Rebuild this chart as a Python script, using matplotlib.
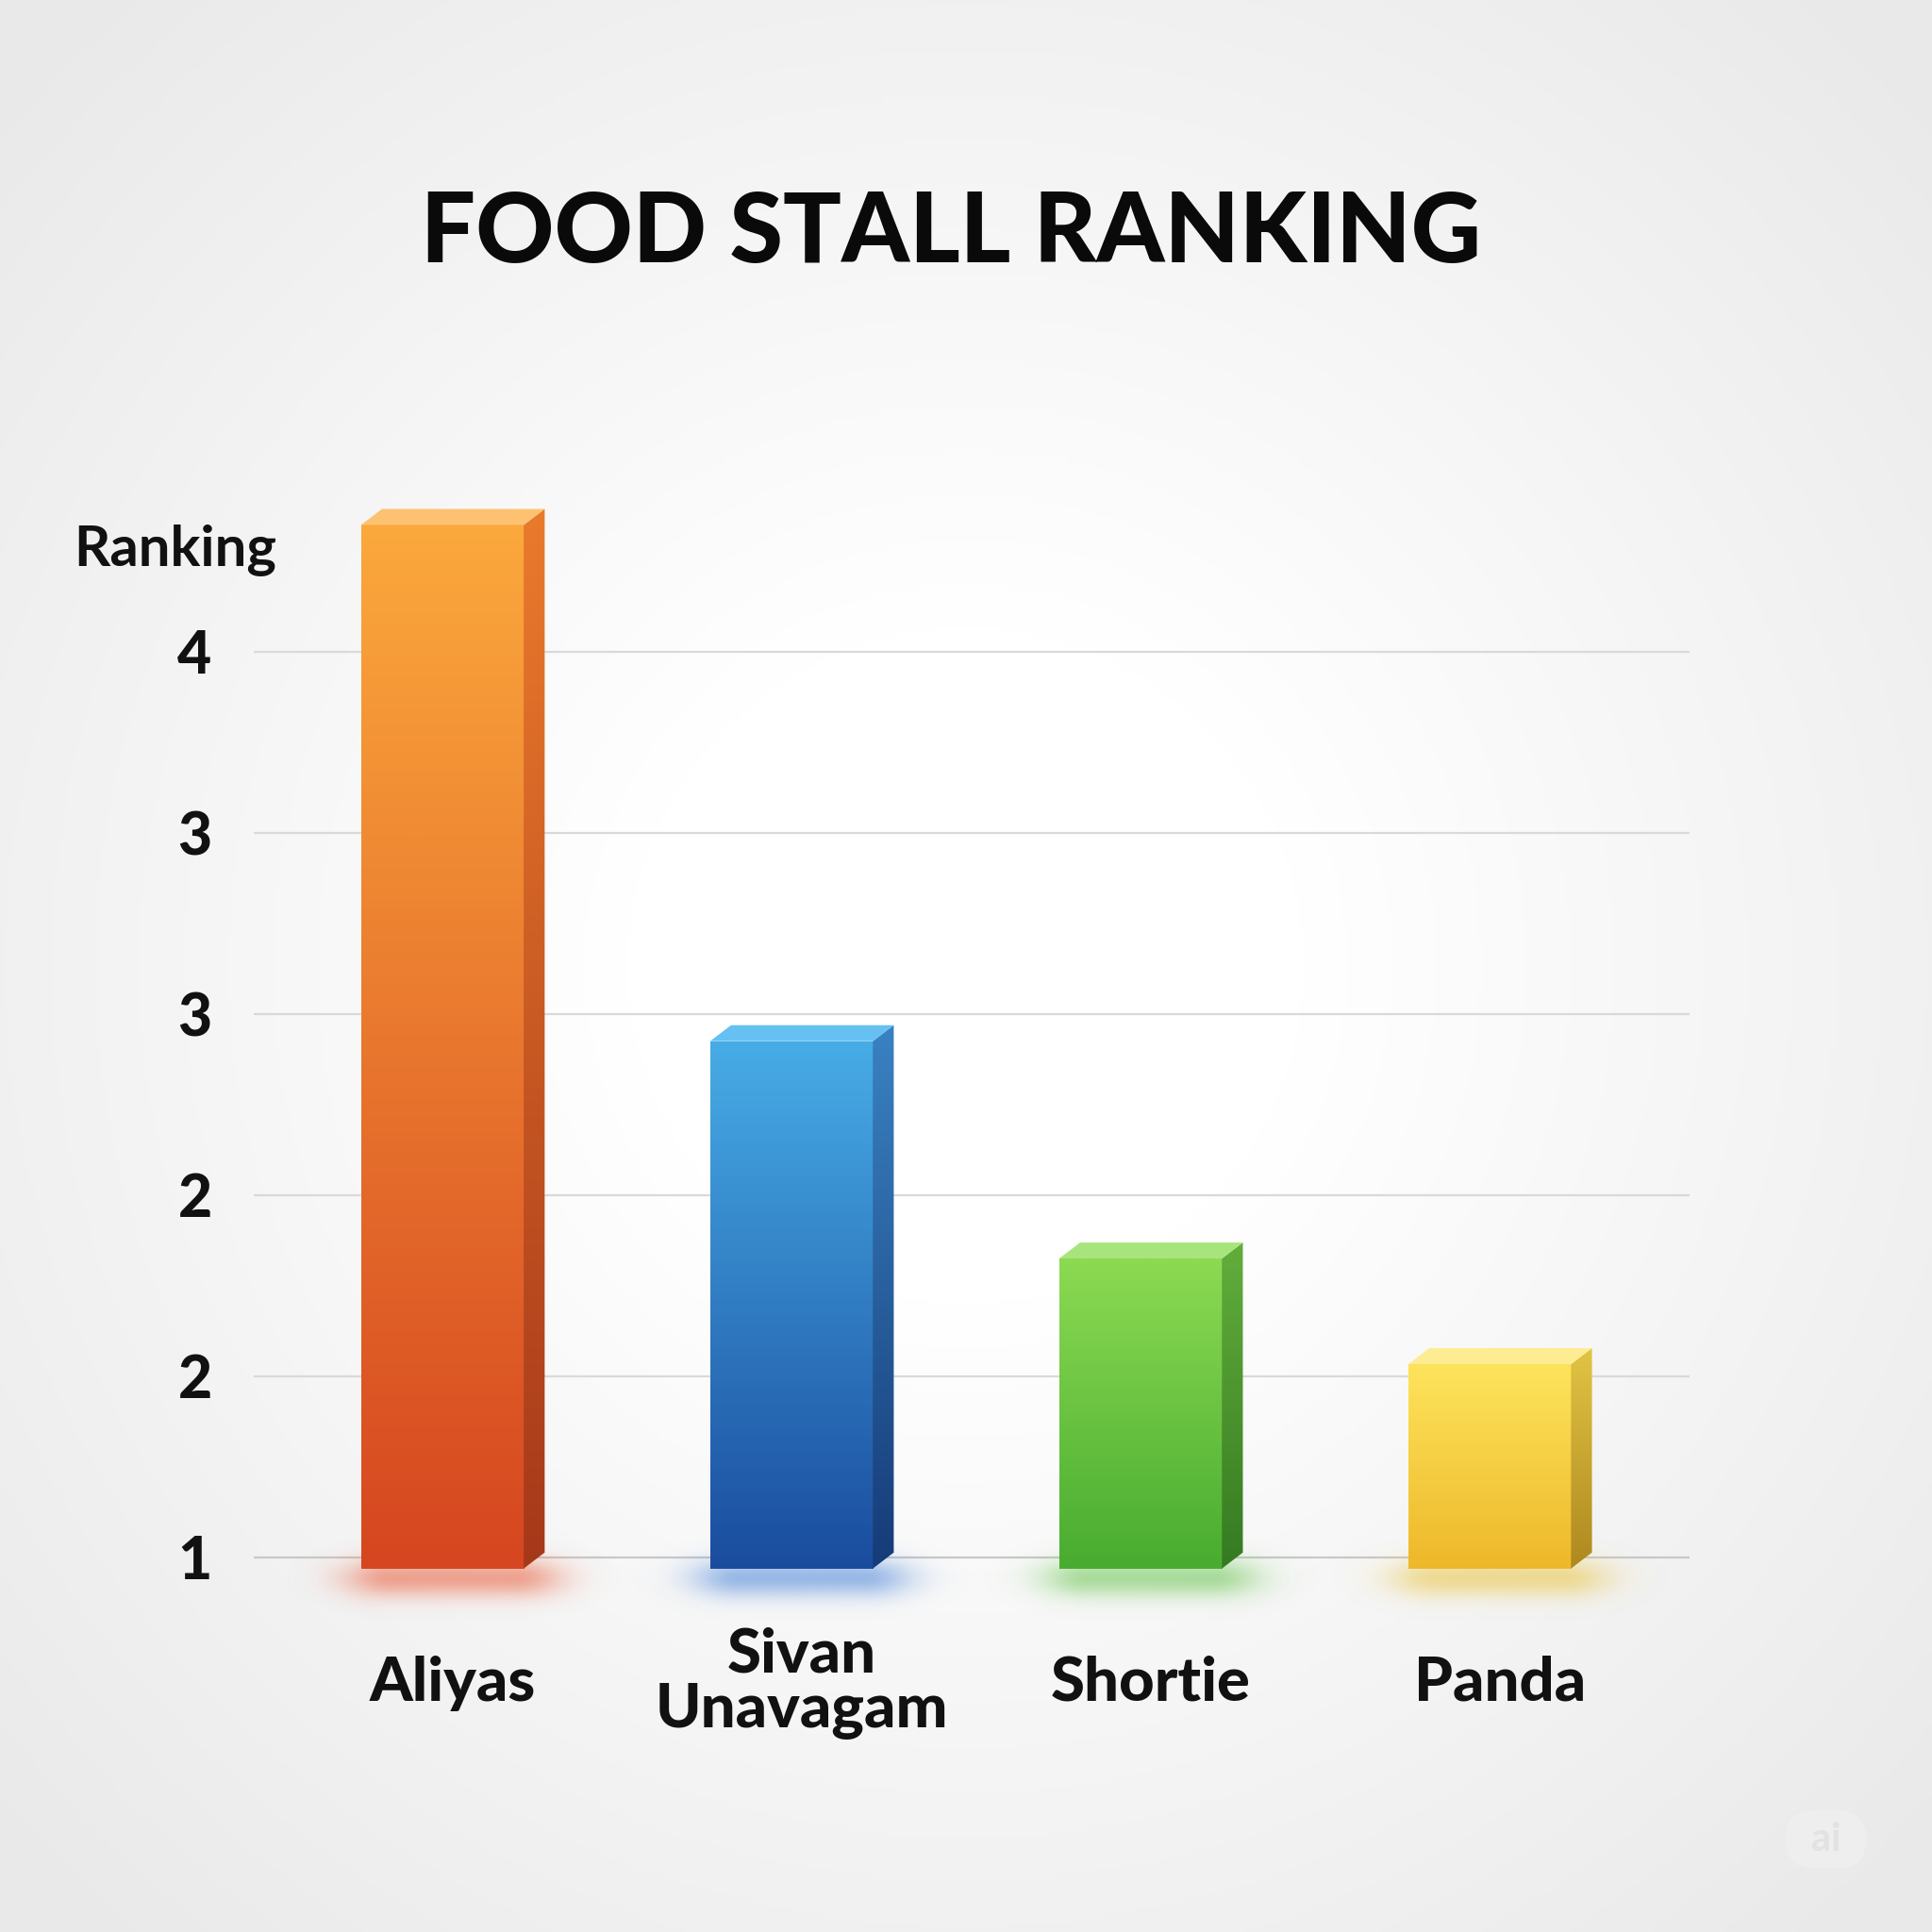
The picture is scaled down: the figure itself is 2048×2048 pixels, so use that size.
import numpy as np
import matplotlib
matplotlib.use("Agg")
import matplotlib.pyplot as plt
import matplotlib.transforms as mtransforms
from matplotlib.colors import LinearSegmentedColormap, to_rgb
from matplotlib.patches import Rectangle, Polygon, FancyBboxPatch

plt.rcParams['font.family'] = ['Lato', 'DejaVu Sans']

# data
stalls = ['Aliyas', 'Sivan\nUnavagam', 'Shortie', 'Panda']
ranking = [4.42, 2.71, 1.99, 1.64]
tick_vals = [1.0, 1.6, 2.2, 2.8, 3.4, 4.0]
tick_labels = ['1', '2', '2', '3', '3', '4']

# colours: front top, front bottom, side top, side bottom, top face
front_top = ['#FBA83C', '#47ACE6', '#8CDA52', '#FDE45C']
front_bot = ['#D64620', '#1A4C9E', '#48AC30', '#EEB82A']
side_top = ['#EA7A2C', '#3A82C2', '#62AE3C', '#E2C444']
side_bot = ['#A6381A', '#163B78', '#357A22', '#AE881E']
top_face = ['#FCC272', '#66C0F2', '#A8E47C', '#FDEC92']
glow_col = ['#E8502A', '#3C7AD6', '#5CC040', '#E8C030']

W = 0.466
DX = 0.06
DY = 0.053
SINK = 0.037

fig = plt.figure(figsize=(20.48, 20.48), dpi=100)

# soft vignette background
bg = fig.add_axes([0, 0, 1, 1], zorder=-10)
yy, xx = np.mgrid[-1:1:400j, -1:1:400j]
r = np.sqrt(xx**2 + yy**2)
shade = 1.0 - 0.085 * np.clip((r - 0.35) / 1.0, 0, 1)
bg.imshow(np.dstack([shade, shade, shade]), extent=[0, 1, 0, 1], aspect='auto')
bg.axis('off')

ax = fig.add_axes([0.1314, 0.15, 0.743, 0.63])
ax.patch.set_alpha(0)
xlim = (-0.54, 3.572)
ylim = (0.719, 4.751)

for t in tick_vals:
    ax.axhline(t, color='#D9D9D9' if t > 1 else '#C8C8C8', lw=1.6, zorder=1)

label_tf = mtransforms.blended_transform_factory(ax.transData, fig.transFigure)
grad = np.linspace(1, 0, 256).reshape(-1, 1)
for i, v in enumerate(ranking):
    x0 = i - W / 2
    x1 = i + W / 2
    y0 = 1 - SINK

    # coloured glow under the bar
    gx, gy = np.meshgrid(np.linspace(-1, 1, 240), np.linspace(-1, 1, 160))
    a = np.exp(-(np.clip(np.abs(gx) - 0.35, 0, None)**2) * 14.0 - (gy**2) * 7.0) * 0.5
    c = to_rgb(glow_col[i])
    glow = np.dstack([np.full_like(a, c[0]), np.full_like(a, c[1]), np.full_like(a, c[2]), a])
    ax.imshow(glow, extent=[x0 - 0.25, x1 + DX + 0.25, y0 - 0.2, y0 + 0.14],
              aspect='auto', zorder=2, interpolation='bilinear')

    # front face with vertical gradient
    cm_f = LinearSegmentedColormap.from_list('f%d' % i, [front_bot[i], front_top[i]])
    rect = Rectangle((x0, y0), W, v - y0, facecolor='none', edgecolor='none')
    ax.add_patch(rect)
    im = ax.imshow(grad, extent=[x0, x1, y0, v], aspect='auto', cmap=cm_f,
                   vmin=0, vmax=1, zorder=4, interpolation='bilinear')
    im.set_clip_path(rect)

    # side face
    cm_s = LinearSegmentedColormap.from_list('s%d' % i, [side_bot[i], side_top[i]])
    side = Polygon([(x1, y0), (x1 + DX, y0 + DY), (x1 + DX, v + DY), (x1, v)],
                   closed=True, facecolor='none', edgecolor='none')
    ax.add_patch(side)
    ims = ax.imshow(grad, extent=[x1, x1 + DX, y0, v + DY], aspect='auto', cmap=cm_s,
                    vmin=0, vmax=1, zorder=4, interpolation='bilinear')
    ims.set_clip_path(side)

    # top face
    ax.add_patch(Polygon([(x0, v), (x1, v), (x1 + DX, v + DY), (x0 + DX, v + DY)],
                         closed=True, facecolor=top_face[i], edgecolor='none', zorder=5))

    ax.text(i + DX / 2, 1 - 1366 / 1568, stalls[i], transform=label_tf,
            ha='center', va='center', fontsize=47, fontweight='black',
            linespacing=1.0, color='#111111')

ax.set_xlim(*xlim)
ax.set_ylim(*ylim)
ax.set_yticks(tick_vals)
ax.set_yticklabels(tick_labels, fontsize=45, fontweight='black', color='#111111')
ax.tick_params(axis='y', length=0, pad=32)
ax.set_xticks([])
for s in ax.spines.values():
    s.set_visible(False)

fig.text(0.492, 0.879, 'FOOD STALL RANKING', ha='center', va='center',
         fontsize=74, fontweight='black', color='#0A0A0A')
fig.text(0.0908, 0.715, 'Ranking', ha='center', va='center',
         fontsize=43, fontweight='bold', color='#111111')

# faint watermark
fig.patches.append(FancyBboxPatch((0.924, 0.033), 0.042, 0.03,
                                  boxstyle='round,pad=0,rounding_size=0.015',
                                  transform=fig.transFigure, facecolor='#EEEEEE',
                                  edgecolor='none', zorder=0))
fig.text(0.945, 0.048, 'ai', ha='center', va='center', fontsize=30,
         fontweight='bold', color='#E2E2E2')

fig.savefig('out.png', dpi=100)
